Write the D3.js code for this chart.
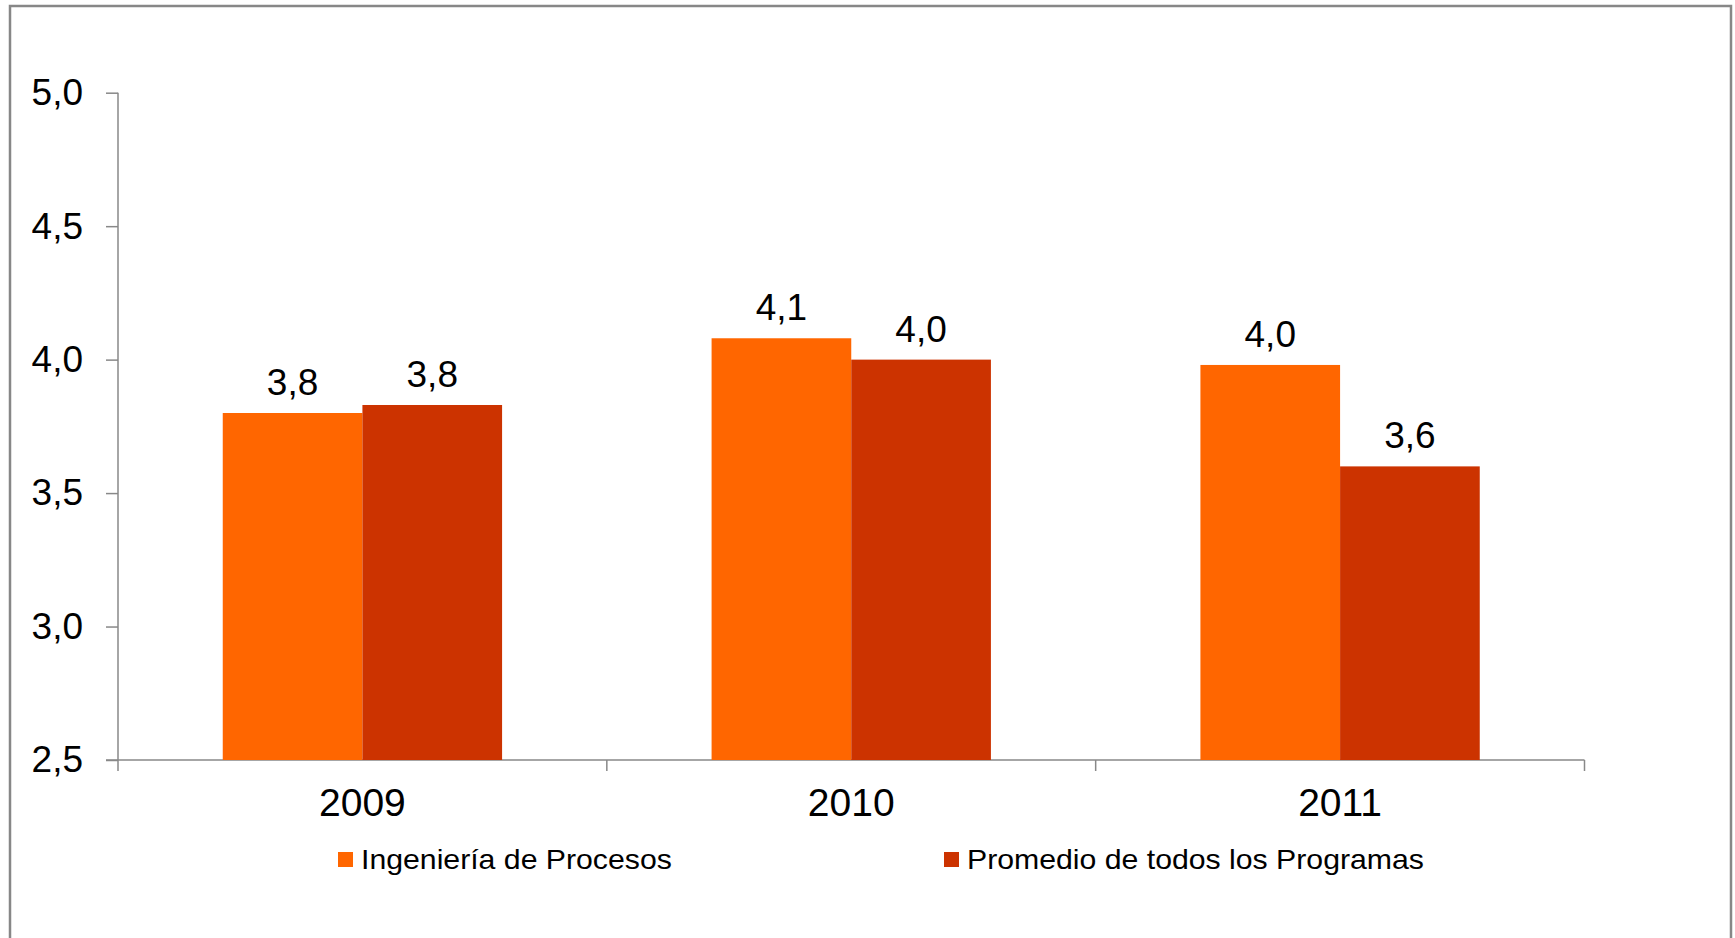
<!DOCTYPE html>
<html>
<head>
<meta charset="utf-8">
<script src="https://d3js.org/d3.v7.min.js"></script>
<style>
  body { margin: 0; background: #fff; }
  svg text { font-family: "Liberation Sans", Arial, sans-serif; fill: #000; }
</style>
</head>
<body>
<svg id="chart" width="1735" height="938"></svg>
<script>
// data
var years = ["2009", "2010", "2011"];
var seriesNames = ["Ingeniería de Procesos", "Promedio de todos los Programas"];
var ingenieria = [3.80, 4.08, 3.98];
var promedio = [3.83, 4.00, 3.60];
var yTicks = [2.5, 3.0, 3.5, 4.0, 4.5, 5.0];
var colors = ["#ff6600", "#cc3300"];

var W = 1735, H = 938;
var margin = { top: 93, left: 118, right: 150, bottom: 178 };

var svg = d3.select("#chart");

// outer frame
svg.append("rect")
    .attr("x", 10).attr("y", 6)
    .attr("width", 1721).attr("height", 960)
    .attr("fill", "none")
    .attr("stroke", "#878787")
    .attr("stroke-width", 2.5);

var comma = d3.formatLocale({ decimal: ",", thousands: ".", grouping: [3], currency: ["", ""] }).format(".1f");

var x0 = d3.scaleBand()
    .domain(years)
    .range([margin.left, 1584.5])
    .paddingInner(0).paddingOuter(0);

var x1 = d3.scaleBand()
    .domain(seriesNames)
    .range([0, x0.bandwidth()])
    .paddingInner(0).paddingOuter(0.75);

var y = d3.scaleLinear()
    .domain([2.5, 5])
    .range([760, 92.7]);

var rows = years.map(function(yr, i) {
    return { year: yr, vals: [ingenieria[i], promedio[i]] };
});

// y axis
var yAxis = svg.append("g")
    .attr("transform", "translate(" + margin.left + ",0)")
    .call(d3.axisLeft(y).tickValues(yTicks).tickFormat(comma).tickSize(12).tickPadding(23));
yAxis.selectAll("path, line").attr("stroke", "#888").attr("stroke-width", 1.5);
yAxis.select(".domain").attr("d", "M0," + y(5) + "V" + y(2.5));
yAxis.selectAll("text")
    .style("font-size", "37px")
    .attr("fill", "#000");

// x axis: line + boundary ticks
var xg = svg.append("g");
xg.append("line")
    .attr("x1", margin.left - 12).attr("x2", 1584.5)
    .attr("y1", y(2.5)).attr("y2", y(2.5))
    .attr("stroke", "#888").attr("stroke-width", 1.5);
var bounds = years.map(function(d) { return x0(d); }).concat([x0(years[years.length - 1]) + x0.bandwidth()]);
xg.selectAll("line.tk")
    .data(bounds)
    .enter().append("line")
    .attr("class", "tk")
    .attr("x1", function(d) { return d; }).attr("x2", function(d) { return d; })
    .attr("y1", y(2.5)).attr("y2", y(2.5) + 11)
    .attr("stroke", "#888").attr("stroke-width", 1.5);
xg.selectAll("text.yr")
    .data(years)
    .enter().append("text")
    .attr("class", "yr")
    .attr("x", function(d) { return x0(d) + x0.bandwidth() / 2; })
    .attr("y", 816)
    .attr("text-anchor", "middle")
    .style("font-size", "39px")
    .text(function(d) { return d; });

// bars
var groups = svg.append("g").selectAll("g")
    .data(rows)
    .enter().append("g")
    .attr("transform", function(d) { return "translate(" + x0(d.year) + ",0)"; });

groups.selectAll("rect")
    .data(function(d) { return d.vals.map(function(v, j) { return { name: seriesNames[j], v: v, j: j }; }); })
    .enter().append("rect")
    .attr("x", function(d) { return x1(d.name); })
    .attr("y", function(d) { return y(d.v); })
    .attr("width", x1.bandwidth())
    .attr("height", function(d) { return y(2.5) - y(d.v); })
    .attr("fill", function(d) { return colors[d.j]; });

groups.selectAll("text")
    .data(function(d) { return d.vals.map(function(v, j) { return { name: seriesNames[j], v: v, j: j }; }); })
    .enter().append("text")
    .attr("x", function(d) { return x1(d.name) + x1.bandwidth() / 2; })
    .attr("y", function(d) { return y(d.v) - 18; })
    .attr("text-anchor", "middle")
    .style("font-size", "37px")
    .text(function(d) { return comma(d.v); });

// legend (text in the original is a bit wider than Arial)
var legX = [338, 944];
var legend = svg.append("g").selectAll("g")
    .data(seriesNames)
    .enter().append("g")
    .attr("transform", function(d, i) { return "translate(" + legX[i] + ",852)"; });
legend.append("rect")
    .attr("width", 15).attr("height", 15)
    .attr("fill", function(d, i) { return colors[i]; });
legend.append("text")
    .attr("transform", "translate(23,17) scale(1.08,1)")
    .style("font-size", "28px")
    .text(function(d) { return d; });
</script>
</body>
</html>
